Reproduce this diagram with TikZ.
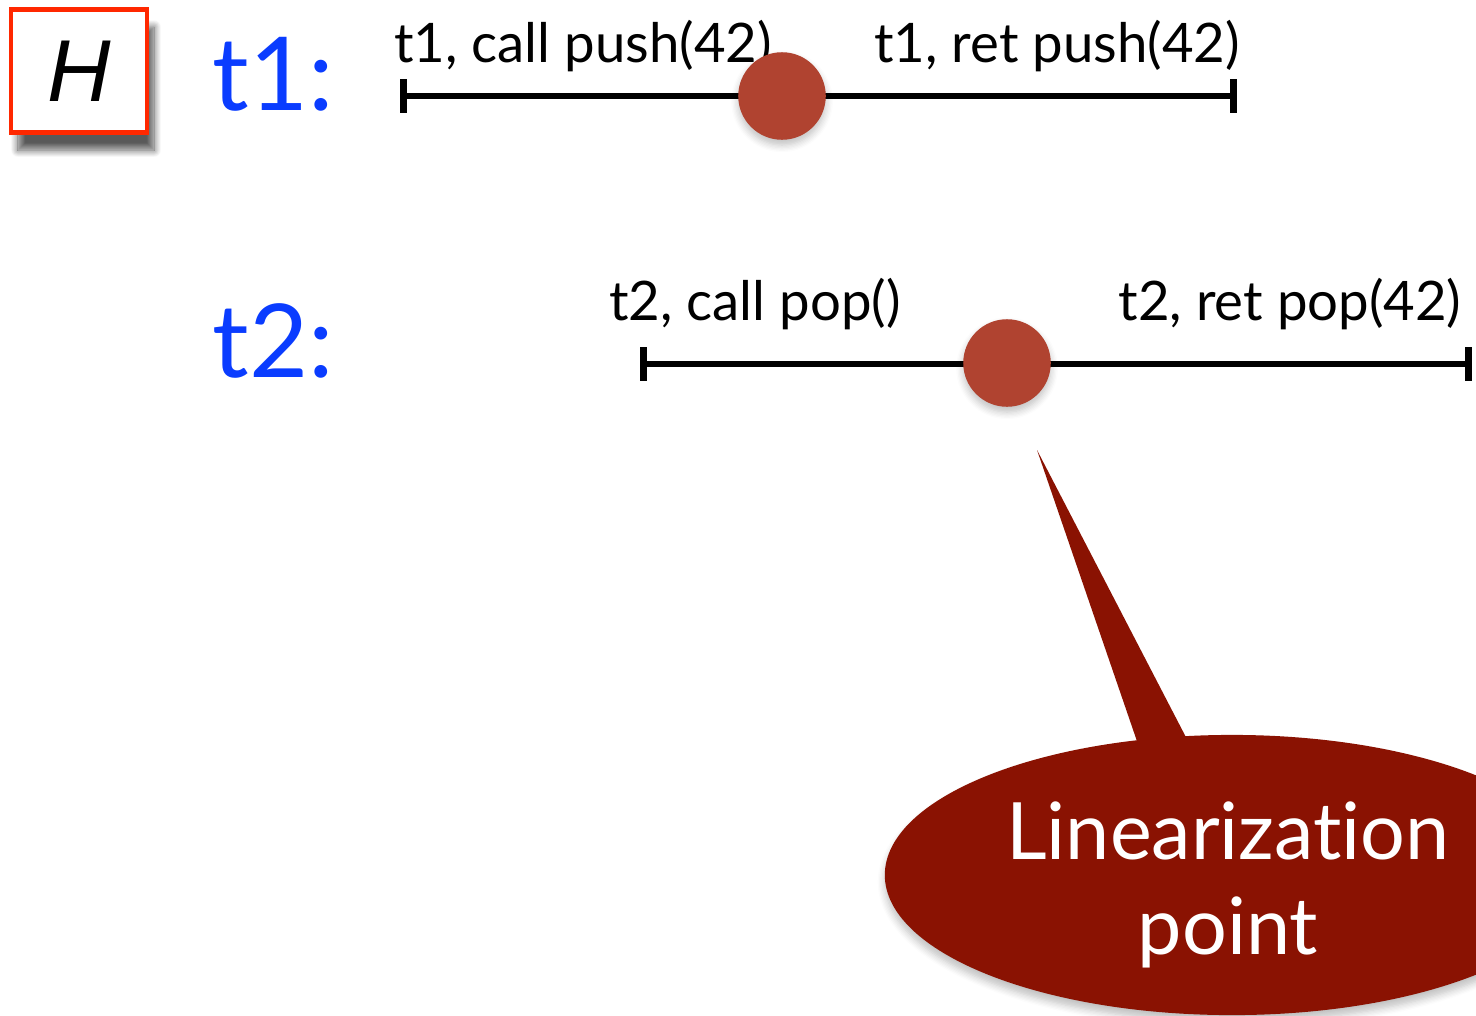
\documentclass[tikz,border=0pt]{standalone}
\usepackage{fontspec}
\setmainfont[Ligatures={NoCommon,NoDiscretionary}]{Lato}
\newfontfamily\hfont{Liberation Sans}
\usetikzlibrary{arrows.meta,shapes.geometric,shadows.blur}

\definecolor{threadblue}{RGB}{10,60,255}
\definecolor{boxred}{RGB}{255,40,0}
\definecolor{dotred}{RGB}{176,67,48}
\definecolor{calloutred}{RGB}{138,18,2}

\tikzset{
  thread/.style={text=threadblue, font=\fontsize{29}{29}\selectfont, anchor=base west},
  event/.style={font=\fontsize{15.5}{15.5}\selectfont, anchor=base},
  interval/.style={line width=1.9pt, {Bar[width=9.5pt]}-{Bar[width=9.5pt]}},
  lpdot/.style={circle, fill=dotred, minimum size=0.875cm, inner sep=0pt,
    blur shadow={shadow xshift=0pt, shadow yshift=-1.5pt, shadow blur steps=6, shadow opacity=25}},
}

\begin{document}
\begin{tikzpicture}[x=0.01cm, y=-0.01cm]
  \useasboundingbox (0,0) rectangle (1476,1015);

  % history box
  \node[draw=boxred, line width=1.2pt, fill=white, minimum width=1.36cm, minimum height=1.23cm,
    blur shadow={shadow xshift=2pt, shadow yshift=-5pt, shadow blur steps=12, shadow opacity=65}]
    (hbox) at (79,71) {\hfont\itshape\fontsize{25}{25}\selectfont H};

  % thread names
  \node[thread] (tone) at (200,110) {t1:};
  \node[thread] (ttwo) at (200,377) {t2:};

  % t1 interval
  \coordinate (onecall) at (400,96);
  \coordinate (oneret) at (1237,96);
  \draw[interval] (onecall) -- (oneret);
  \node[event] (callpush) at (583,62) {t1, call push(42)};
  \node[event] (retpush) at (1057,62) {t1, ret push(42)};
  \node[lpdot] (lpone) at (782,96) {};

  % t2 interval
  \coordinate (twocall) at (640,364);
  \coordinate (tworet) at (1472,364);
  \draw[interval] (twocall) -- (tworet);
  \node[event] (callpop) at (755,320) {t2, call pop()};
  \node[event] (retpop) at (1290,320) {t2, ret pop(42)};
  \node[lpdot] (lptwo) at (1007,363) {};

  % callout
  \coordinate (tip) at (1037,450);
  \node[ellipse, fill=calloutred, minimum width=6.94cm, minimum height=2.8cm, inner sep=0pt,
    blur shadow={shadow xshift=0pt, shadow yshift=-2pt, shadow blur steps=6, shadow opacity=25}]
    (callout) at (1232,875) {};
  \fill[calloutred] (tip) -- (1190,745) -- (1140,750) -- cycle;
  \node[text=white, align=center, font=\fontsize{22.5}{27}\selectfont] (lptext) at (1228,885)
    {Linearization\\point};
\end{tikzpicture}
\end{document}
